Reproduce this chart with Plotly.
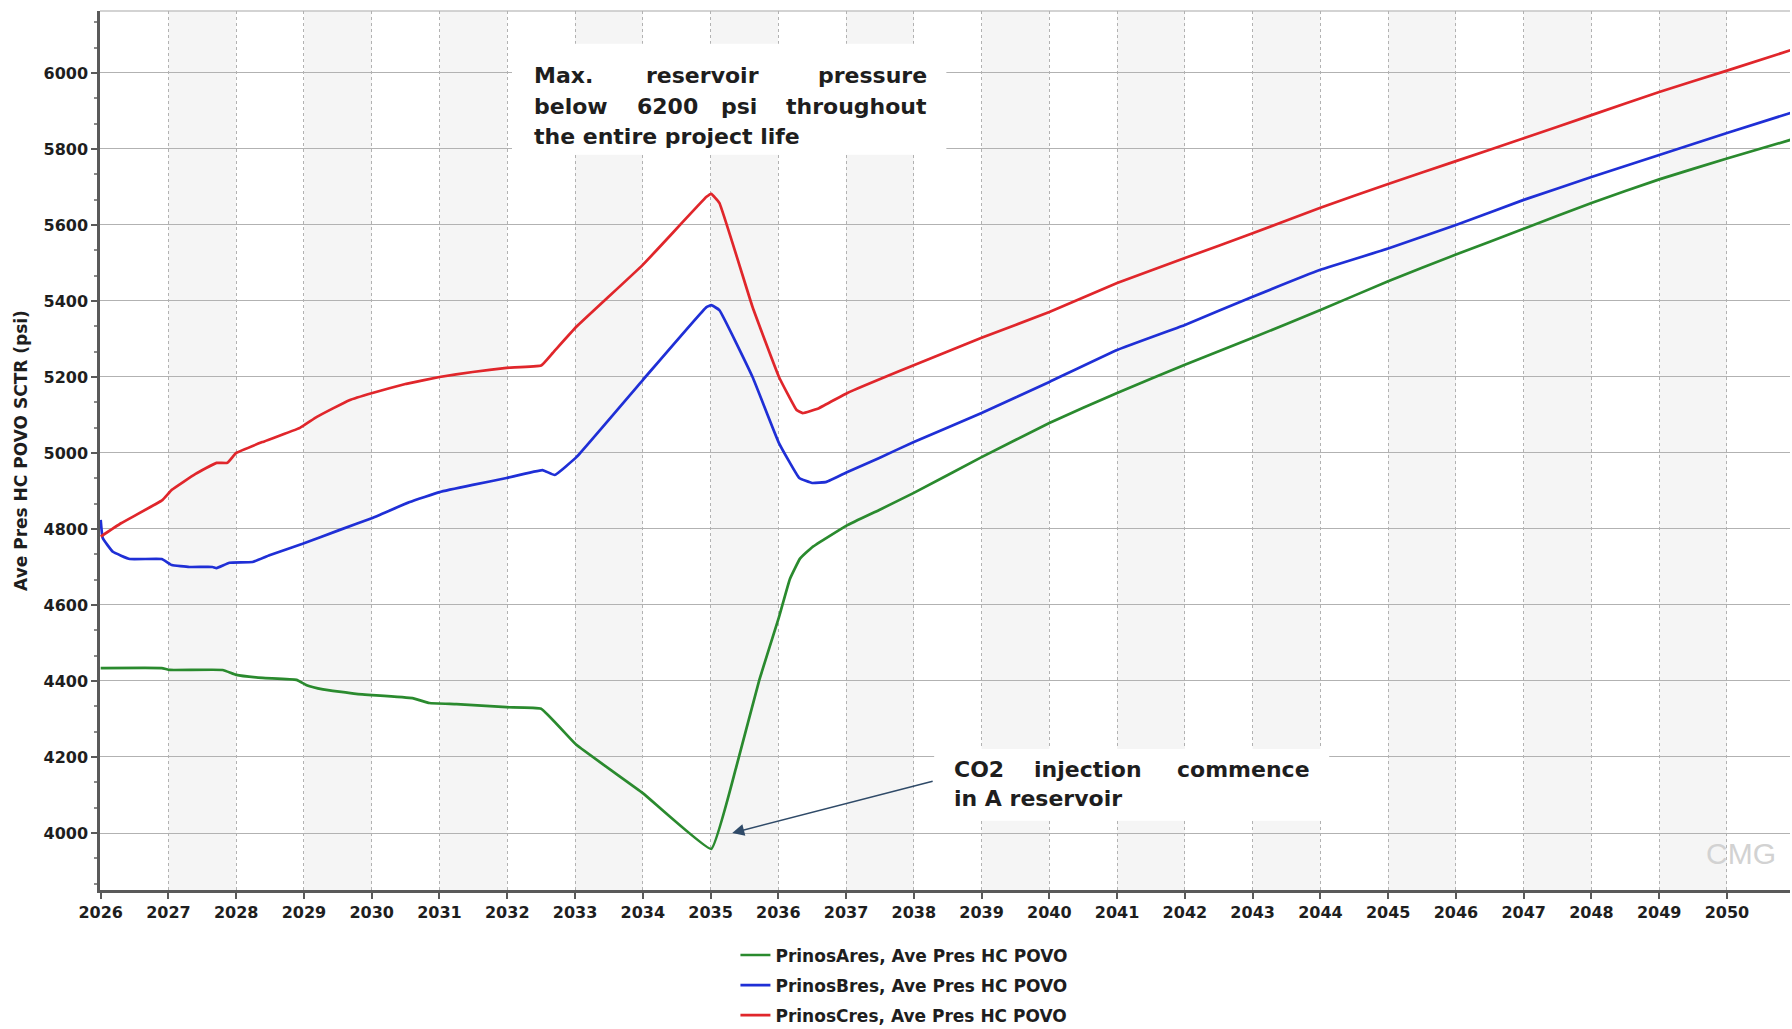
import plotly.graph_objects as go

# Average reservoir pressure (psi) vs. time for the three Prinos reservoirs
years_a = [2026.00, 2026.90, 2027.02, 2027.80, 2028.00, 2028.39, 2028.89, 2029.04, 2029.28,
           2029.77, 2030.60, 2030.85, 2031.25, 2031.99, 2032.50, 2033.02, 2034.00, 2035.01,
           2035.38, 2035.72, 2036.01, 2036.17, 2036.32, 2036.50, 2037.02, 2037.49, 2038.00,
           2039.00, 2040.00, 2041.00, 2042.00, 2043.00, 2044.00, 2045.00, 2046.00, 2047.00,
           2048.00, 2049.00, 2050.00, 2050.94]
pres_a = [4434, 4434, 4429, 4429, 4416, 4408, 4403, 4389, 4378,
          4366, 4355, 4342, 4339, 4331, 4327, 4232, 4105, 3958,
          4174, 4403, 4568, 4668, 4722, 4752, 4810, 4850, 4895,
          4989, 5079, 5158, 5232, 5303, 5376, 5452, 5522, 5590,
          5658, 5720, 5775, 5824]

years_b = [2026.00, 2026.03, 2026.18, 2026.43, 2026.90, 2027.05, 2027.31, 2027.65, 2027.71,
           2027.90, 2028.24, 2028.49, 2028.98, 2029.52, 2030.01, 2030.56, 2031.00, 2031.49,
           2031.99, 2032.52, 2032.70, 2033.02, 2034.00, 2034.94, 2035.01, 2035.13, 2035.62,
           2036.01, 2036.31, 2036.50, 2036.71, 2037.02, 2037.49, 2038.00, 2039.00, 2040.00,
           2041.00, 2042.00, 2043.00, 2044.00, 2045.00, 2046.00, 2047.00, 2048.00, 2049.00,
           2050.00, 2050.94]
pres_b = [4824, 4776, 4740, 4721, 4721, 4705, 4700, 4700, 4697,
          4711, 4713, 4731, 4761, 4797, 4829, 4871, 4897, 4916,
          4934, 4955, 4942, 4989, 5192, 5384, 5389, 5376, 5200,
          5026, 4934, 4921, 4924, 4950, 4987, 5029, 5105, 5187,
          5271, 5337, 5411, 5482, 5538, 5600, 5666, 5726, 5784,
          5842, 5895]

years_c = [2026.00, 2026.30, 2026.91, 2027.05, 2027.40, 2027.71, 2027.87, 2028.00, 2028.39,
           2028.94, 2029.19, 2029.67, 2030.01, 2030.51, 2031.00, 2031.49, 2031.99, 2032.50,
           2032.67, 2033.02, 2034.00, 2034.94, 2035.01, 2035.13, 2035.62, 2036.01, 2036.27,
           2036.36, 2036.60, 2037.02, 2037.78, 2039.00, 2040.00, 2041.00, 2042.00,
           2043.00, 2044.00, 2045.00, 2046.00, 2047.00, 2048.00, 2049.00, 2050.00, 2050.94]
pres_c = [4780, 4815, 4876, 4903, 4945, 4974, 4974, 5000, 5029,
          5066, 5095, 5139, 5158, 5182, 5200, 5213, 5224, 5230,
          5263, 5332, 5495, 5674, 5682, 5658, 5384, 5200, 5113,
          5105, 5118, 5158, 5215, 5303, 5371, 5447, 5513,
          5578, 5645, 5708, 5768, 5828, 5889, 5950, 6006, 6060]

series_names = ["PrinosAres, Ave Pres HC POVO",
                "PrinosBres, Ave Pres HC POVO",
                "PrinosCres, Ave Pres HC POVO"]
series_colors = ["#2a8a2e", "#1f2fd6", "#e0262b"]

tick_years = list(range(2026, 2051))
tick_pres = [4000, 4200, 4400, 4600, 4800, 5000, 5200, 5400, 5600, 5800, 6000]

x_range = [2025.99, 2050.93]
y_range = [3850, 6163]

FONT = "DejaVu Sans"
TXT = "#1e1e1e"

fig = go.Figure()
for yrs, pres, name, col in zip([years_a, years_b, years_c],
                                [pres_a, pres_b, pres_c],
                                series_names, series_colors):
    fig.add_trace(go.Scatter(x=yrs, y=pres, mode="lines", name=name,
                             legendgroup=name,
                             line=dict(color=col, width=2.7, shape="spline", smoothing=0.3)))

shapes = []
# alternating year bands
for yr in range(2027, 2051, 2):
    shapes.append(dict(type="rect", xref="x", yref="paper", x0=yr, x1=yr + 1, y0=0, y1=1,
                       fillcolor="#f5f5f5", line=dict(width=0), layer="below"))
# top frame line
shapes.append(dict(type="line", xref="paper", yref="paper", x0=0, x1=1, y0=1, y1=1,
                   line=dict(color="#c4c4c4", width=1.5), layer="below"))
# white text boxes
shapes.append(dict(type="rect", xref="x", yref="y", x0=2032.07, x1=2038.48, y0=5785, y1=6077,
                   fillcolor="white", line=dict(width=0), layer="above"))
shapes.append(dict(type="rect", xref="x", yref="y", x0=2038.30, x1=2044.13, y0=4032, y1=4221,
                   fillcolor="white", line=dict(width=0), layer="above"))

annotations = []


def word(x, y, text, anchor="left", size=22):
    annotations.append(dict(x=x, y=y, xref="x", yref="y", text=text, showarrow=False,
                            xanchor=anchor, yanchor="middle",
                            font=dict(family=FONT, size=size, color=TXT, weight="bold")))


# justified note on maximum pressure
word(2032.37, 5992, "Max.")
word(2034.02, 5992, "reservoir")
word(2038.23, 5992, "pressure", "right")
word(2032.37, 5912, "below")
word(2033.88, 5912, "6200")
word(2035.13, 5912, "psi")
word(2038.23, 5912, "throughout", "right")
word(2032.37, 5832, "the entire project life")

# note on CO2 injection
word(2038.57, 4168, "CO2")
word(2039.75, 4168, "injection")
word(2043.88, 4168, "commence", "right")
word(2038.57, 4092, "in A reservoir")

# arrow to the start of injection
annotations.append(dict(x=2035.32, y=4000, xref="x", yref="y",
                        ax=2038.30, ay=4137, axref="x", ayref="y",
                        text="", showarrow=True, arrowhead=2, arrowsize=1.6,
                        arrowwidth=1.5, arrowcolor="#2f4a68"))

# software watermark
annotations.append(dict(x=2050.2, y=3945, xref="x", yref="y", text="CMG", showarrow=False,
                        font=dict(family="Liberation Sans", size=30, color="#d2d2d2")))

fig.update_layout(
    width=1792, height=1029,
    margin=dict(l=100, r=2, t=11, b=139, autoexpand=False),
    paper_bgcolor="white", plot_bgcolor="white",
    shapes=shapes, annotations=annotations,
    showlegend=True,
    legend=dict(x=0.376, xanchor="left", y=-0.054, yanchor="top",
                orientation="v", tracegroupgap=5, bgcolor="rgba(0,0,0,0)",
                font=dict(family=FONT, size=17, color=TXT, weight="bold")),
    xaxis=dict(range=x_range, tickmode="array", tickvals=tick_years,
               ticktext=[str(y) for y in tick_years],
               showgrid=True, gridcolor="#b2b2b2", gridwidth=1, griddash="dot",
               showline=True, linecolor="#5a5a5a", linewidth=2.5,
               ticks="outside", ticklen=6, tickwidth=1.5, tickcolor="#5a5a5a",
               zeroline=False, automargin=False,
               tickfont=dict(family=FONT, size=16, color=TXT, weight="bold")),
    yaxis=dict(range=y_range, tickmode="array", tickvals=tick_pres,
               showgrid=True, gridcolor="#b2b2b2", gridwidth=1,
               showline=True, linecolor="#5a5a5a", linewidth=2.5,
               ticks="outside", ticklen=6, tickwidth=1.5, tickcolor="#5a5a5a",
               minor=dict(tick0=4000, dtick=200 / 3, ticks="outside", ticklen=3,
                          tickcolor="#8a8a8a", showgrid=False),
               zeroline=False, automargin=False,
               tickfont=dict(family=FONT, size=16, color=TXT, weight="bold"),
               title=dict(text="Ave Pres HC POVO SCTR (psi)", standoff=12,
                          font=dict(family=FONT, size=17, color=TXT, weight="bold"))),
)

fig.write_html("out.html")
